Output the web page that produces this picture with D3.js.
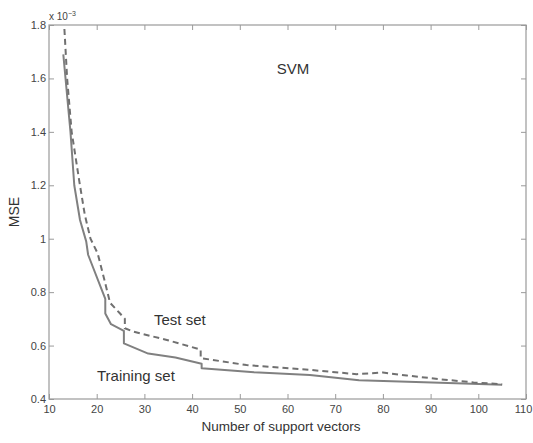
<!DOCTYPE html>
<html>
<head>
<meta charset="utf-8">
<script src="https://cdn.jsdelivr.net/npm/d3@7/dist/d3.min.js"></script>
<style>
  html, body { margin: 0; padding: 0; background: #fff; }
  svg { display: block; font-family: "Liberation Sans", Arial, Helvetica, sans-serif; }
</style>
</head>
<body>
<svg id="chart" width="533" height="443"></svg>
<script>
// ---- data (MSE in units of 1e-3) ----
const trainX = [13, 14.5, 15.3, 16.5, 17.8, 18.2, 21.8, 21.8, 23, 25.7, 25.7, 30.8, 36.5, 42, 42, 53, 64.7, 75, 92, 105];
const trainY = [1.69, 1.40, 1.20, 1.07, 0.99, 0.94, 0.775, 0.72, 0.68, 0.655, 0.608, 0.57, 0.555, 0.532, 0.515, 0.50, 0.49, 0.47, 0.461, 0.453];

const testX = [13, 13.8, 14.75, 16.4, 17.5, 18.7, 20.2, 21.7, 22.8, 24.9, 25.9, 25.9, 27.7, 34.7, 41.8, 41.8, 51.4, 64.7, 74.5, 80, 85, 92, 99, 105];
const testY = [1.86, 1.60, 1.40, 1.21, 1.09, 1.00, 0.945, 0.84, 0.76, 0.72, 0.70, 0.665, 0.652, 0.621, 0.585, 0.553, 0.527, 0.509, 0.493, 0.499, 0.488, 0.474, 0.462, 0.455];

const xTicks = [10, 20, 30, 40, 50, 60, 70, 80, 90, 100, 110];
const yTicks = [0.4, 0.6, 0.8, 1.0, 1.2, 1.4, 1.6, 1.8];

const svg = d3.select("#chart");
const L = 49, R = 526, T = 25, B = 399;
const x = d3.scaleLinear().domain([10, 110]).range([L, R]);
const y = d3.scaleLinear().domain([0.4, 1.8]).range([B, T]);

const axisCol = "#9a9a9a";
const textCol = "#333";
const lineCol = "#808080";

svg.append("defs").append("clipPath").attr("id", "clip")
  .append("rect").attr("x", L).attr("y", T).attr("width", R - L).attr("height", B - T);

function styleAxis(g, labels) {
  g.select(".domain").remove();
  g.selectAll(".tick line").attr("stroke", axisCol).attr("stroke-width", 1);
  g.selectAll(".tick text").attr("fill", labels ? "#444" : "none")
    .style("font-size", "11px");
}

const fmtY = d => (Math.abs(d - 1) < 1e-9 ? "1" : d3.format(".1f")(d));

svg.append("g").attr("transform", `translate(0,${B})`)
  .call(d3.axisBottom(x).tickValues(xTicks).tickSize(-5).tickPadding(6).tickFormat(d3.format("d")))
  .call(g => styleAxis(g, true))
  .call(g => g.selectAll(".tick text").filter(d => d === 110).attr("dx", -3));
svg.append("g").attr("transform", `translate(0,${T})`)
  .call(d3.axisTop(x).tickValues(xTicks).tickSize(-5).tickFormat(""))
  .call(g => styleAxis(g, false));
svg.append("g").attr("transform", `translate(${L},0)`)
  .call(d3.axisLeft(y).tickValues(yTicks).tickSize(-5).tickPadding(3).tickFormat(fmtY))
  .call(g => styleAxis(g, true));
svg.append("g").attr("transform", `translate(${R},0)`)
  .call(d3.axisRight(y).tickValues(yTicks).tickSize(-5).tickFormat(""))
  .call(g => styleAxis(g, false));

svg.append("rect").attr("x", L).attr("y", T).attr("width", R - L).attr("height", B - T)
  .attr("fill", "none").attr("stroke", axisCol).attr("stroke-width", 1.2);

const line = d3.line().x(d => x(d[0])).y(d => y(d[1]));
const train = trainX.map((v, i) => [v, trainY[i]]);
const test = testX.map((v, i) => [v, testY[i]]);

const plot = svg.append("g").attr("clip-path", "url(#clip)");
plot.append("path").datum(train).attr("d", line)
  .attr("fill", "none").attr("stroke", lineCol).attr("stroke-width", 2).attr("stroke-linejoin", "round");
plot.append("path").datum(test).attr("d", line)
  .attr("fill", "none").attr("stroke", "#707070").attr("stroke-width", 2).attr("stroke-dasharray", "6,4");

// texts
svg.append("text").attr("x", 293).attr("y", 74).attr("text-anchor", "middle")
  .attr("fill", textCol).style("font-size", "15px").text("SVM");
svg.append("text").attr("x", 154).attr("y", 325)
  .attr("fill", textCol).style("font-size", "15px").text("Test set");
svg.append("text").attr("x", 97).attr("y", 381)
  .attr("fill", textCol).style("font-size", "15px").text("Training set");

svg.append("text").attr("x", 281).attr("y", 431).attr("text-anchor", "middle")
  .attr("fill", textCol).style("font-size", "13.5px").text("Number of support vectors");
svg.append("text").attr("transform", `translate(19,${(T + B) / 2}) rotate(-90)`)
  .attr("text-anchor", "middle").attr("fill", textCol).style("font-size", "14px").text("MSE");

const ex = svg.append("text").attr("x", 49).attr("y", 20).attr("fill", "#444").style("font-size", "10px");
ex.append("tspan").text("x 10");
ex.append("tspan").attr("dy", -4).style("font-size", "7px").text("−3");
</script>
</body>
</html>
